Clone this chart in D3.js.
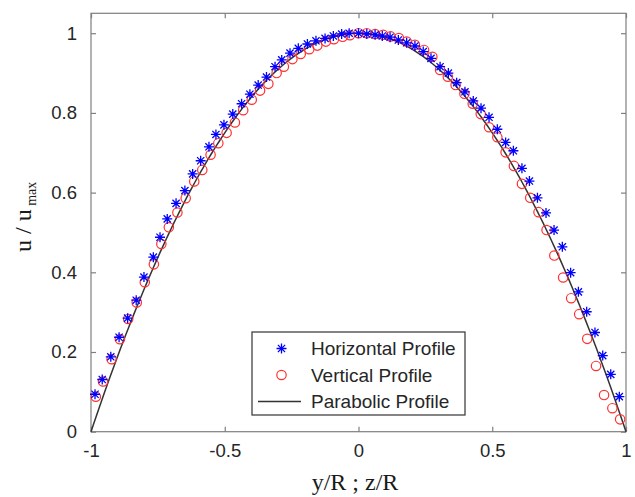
<!DOCTYPE html>
<html><head><meta charset="utf-8">
<script src="https://cdn.jsdelivr.net/npm/d3@7"></script>
<style>body{margin:0;background:#fff}svg{display:block}</style>
</head><body>
<svg id="chart" width="635" height="497"></svg>
<script>
// Horizontal profile (blue stars)
const horizX = [-0.985,-0.958,-0.926,-0.895,-0.863,-0.831,-0.802,-0.767,-0.742,-0.715,-0.682,-0.649,-0.620,-0.590,-0.559,-0.533,-0.503,-0.470,-0.437,-0.406,-0.375,-0.344,-0.312,-0.287,-0.256,-0.225,-0.191,-0.159,-0.125,-0.094,-0.063,-0.035,0.000,0.031,0.062,0.089,0.118,0.149,0.180,0.211,0.242,0.271,0.305,0.336,0.367,0.398,0.429,0.458,0.488,0.519,0.550,0.579,0.611,0.639,0.669,0.701,0.731,0.762,0.793,0.822,0.853,0.884,0.913,0.943,0.975];
const horizY = [0.094,0.131,0.188,0.237,0.285,0.330,0.388,0.438,0.488,0.534,0.573,0.605,0.647,0.680,0.715,0.746,0.770,0.797,0.823,0.847,0.870,0.890,0.916,0.933,0.950,0.962,0.973,0.981,0.987,0.993,0.998,1.000,1.000,0.998,0.996,0.993,0.990,0.983,0.976,0.968,0.954,0.937,0.916,0.900,0.876,0.853,0.830,0.812,0.789,0.759,0.726,0.705,0.661,0.629,0.587,0.549,0.506,0.464,0.399,0.351,0.301,0.249,0.191,0.144,0.088];
// Vertical profile (red circles)
const vertX = [-0.982,-0.955,-0.923,-0.892,-0.861,-0.829,-0.799,-0.765,-0.737,-0.709,-0.677,-0.646,-0.614,-0.584,-0.553,-0.524,-0.493,-0.462,-0.431,-0.399,-0.368,-0.337,-0.306,-0.279,-0.247,-0.216,-0.184,-0.154,-0.122,-0.092,-0.059,-0.032,0.000,0.031,0.062,0.092,0.120,0.151,0.180,0.211,0.245,0.276,0.305,0.334,0.363,0.396,0.427,0.457,0.488,0.519,0.550,0.581,0.611,0.642,0.673,0.703,0.732,0.765,0.795,0.825,0.855,0.888,0.918,0.949,0.978];
const vertY = [0.088,0.126,0.182,0.232,0.283,0.324,0.375,0.420,0.471,0.513,0.550,0.586,0.628,0.657,0.695,0.724,0.750,0.776,0.807,0.833,0.856,0.873,0.900,0.916,0.935,0.948,0.960,0.969,0.979,0.985,0.991,0.995,1.000,1.000,0.998,0.996,0.992,0.988,0.979,0.971,0.958,0.941,0.908,0.891,0.870,0.848,0.823,0.797,0.764,0.739,0.701,0.667,0.622,0.587,0.551,0.506,0.442,0.387,0.335,0.295,0.233,0.165,0.092,0.059,0.031];
// Parabolic profile u/umax = 1 - (r/R)^2, sampled
const paraX = d3.range(-1, 1.0001, 0.01);
const paraY = paraX.map(x => 1 - x * x);

const xTicks = [-1, -0.5, 0, 0.5, 1];
const yTicks = [0, 0.2, 0.4, 0.6, 0.8, 1];
const legendLabels = ["Horizontal Profile", "Vertical Profile", "Parabolic Profile"];

const svg = d3.select("#chart");
const L = 91, R = 626, T = 13.3, B = 431.7;
const x = d3.scaleLinear().domain([-1, 1]).range([L, R]);
const y = d3.scaleLinear().domain([0, 1.05]).range([B, T]);
const axisCol = "#7f7f7f", textCol = "#262626";

// axes box
svg.append("rect").attr("x", L).attr("y", T).attr("width", R - L).attr("height", B - T)
  .attr("fill", "none").attr("stroke", axisCol).attr("stroke-width", 1.2);

const tl = 5;
const gx = svg.append("g").attr("transform", `translate(0,${B})`)
  .call(d3.axisBottom(x).tickValues(xTicks).tickSizeInner(-tl).tickSizeOuter(0).tickPadding(12).tickFormat(d3.format("")));
const gxt = svg.append("g").attr("transform", `translate(0,${T})`)
  .call(d3.axisTop(x).tickValues(xTicks).tickSizeInner(-tl).tickSizeOuter(0).tickFormat(""));
const gy = svg.append("g").attr("transform", `translate(${L},0)`)
  .call(d3.axisLeft(y).tickValues(yTicks).tickSizeInner(-tl).tickSizeOuter(0).tickPadding(14).tickFormat(d3.format("")));
const gyr = svg.append("g").attr("transform", `translate(${R},0)`)
  .call(d3.axisRight(y).tickValues(yTicks).tickSizeInner(-tl).tickSizeOuter(0).tickFormat(""));
[gx, gxt, gy, gyr].forEach(g => {
  g.select(".domain").remove();
  g.selectAll(".tick line").attr("stroke", axisCol).attr("stroke-width", 1.2);
  g.selectAll("text").attr("fill", textCol).style("font-family", "'Liberation Sans', Arial, sans-serif").style("font-size", "18.5px");
});
gx.selectAll("text").text(d => d3.format("")(d).replace("−", "-"));

// parabola line
svg.append("path").datum(paraX.map((v, i) => [v, paraY[i]]))
  .attr("d", d3.line().x(d => x(d[0])).y(d => y(d[1])))
  .attr("fill", "none").attr("stroke", "#333").attr("stroke-width", 1.5);

// marker helpers
const s = 5;
function starPath(cx, cy) {
  const d = s * 0.72;
  return `M${cx - s},${cy}L${cx + s},${cy}M${cx},${cy - s}L${cx},${cy + s}` +
         `M${cx - d},${cy - d}L${cx + d},${cy + d}M${cx - d},${cy + d}L${cx + d},${cy - d}`;
}

// vertical profile circles
svg.append("g").selectAll("circle").data(vertX.map((v, i) => [v, vertY[i]])).join("circle")
  .attr("cx", d => x(d[0])).attr("cy", d => y(d[1])).attr("r", 4.7)
  .attr("fill", "none").attr("stroke", "#ff3030").attr("stroke-width", 1.2);

// horizontal profile stars
svg.append("g").selectAll("path").data(horizX.map((v, i) => [v, horizY[i]])).join("path")
  .attr("d", d => starPath(x(d[0]), y(d[1])))
  .attr("fill", "none").attr("stroke", "#0000ff").attr("stroke-width", 1.3);

// legend
const lg = svg.append("g");
lg.append("rect").attr("x", 252).attr("y", 332).attr("width", 213).attr("height", 83)
  .attr("fill", "#fff").attr("stroke", "#333").attr("stroke-width", 1.2);
const rows = [348.5, 375, 401.5];
lg.append("path").attr("d", starPath(281.5, rows[0])).attr("fill", "none").attr("stroke", "#0000ff").attr("stroke-width", 1.3);
lg.append("circle").attr("cx", 281.5).attr("cy", rows[1]).attr("r", 4.7).attr("fill", "none").attr("stroke", "#ff3030").attr("stroke-width", 1.2);
lg.append("line").attr("x1", 258).attr("x2", 301).attr("y1", rows[2]).attr("y2", rows[2]).attr("stroke", "#333").attr("stroke-width", 1.5);
legendLabels.forEach((t, i) => {
  lg.append("text").attr("x", 311).attr("y", rows[i]).attr("dy", "0.36em").text(t)
    .attr("fill", textCol).style("font-family", "'Liberation Sans', Arial, sans-serif").style("font-size", "19px");
});

// axis labels
svg.append("text").attr("x", 355).attr("y", 490).attr("text-anchor", "middle")
  .style("font-family", "'Liberation Serif', 'Times New Roman', serif").style("font-size", "24px").attr("fill", "#1a1a1a")
  .text("y/R ; z/R");
const yl = svg.append("text").attr("transform", "translate(31,252) rotate(-90)")
  .style("font-family", "'Liberation Serif', 'Times New Roman', serif").style("font-size", "24px").attr("fill", "#1a1a1a");
yl.append("tspan").text("u / u");
yl.append("tspan").attr("dy", 5).style("font-size", "14px").text(" max");
</script>
</body></html>
